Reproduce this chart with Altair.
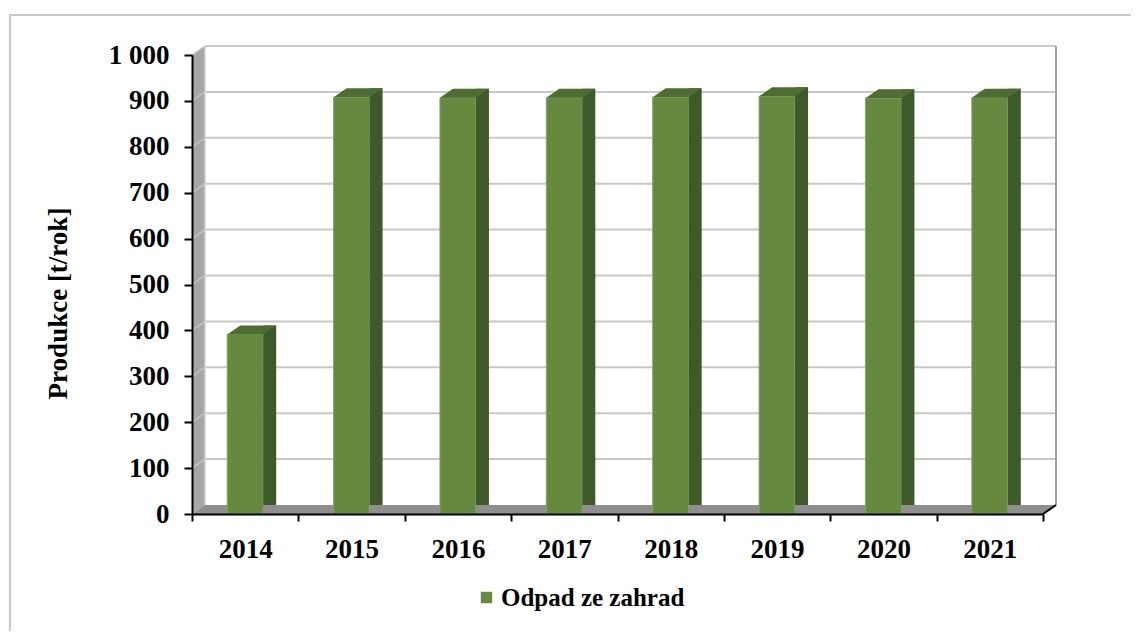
import altair as alt
import pandas as pd

# ---- data ----
years = ["2014", "2015", "2016", "2017", "2018", "2019", "2020", "2021"]
values = [391, 908, 907, 907, 908, 910, 906, 907]
series_name = "Odpad ze zahrad"
y_tick_values = [0, 100, 200, 300, 400, 500, 600, 700, 800, 900, 1000]
grid_values = [100, 200, 300, 400, 500, 600, 700, 800, 900, 1000]
y_title = "Produkce [t/rok]"

# ---- layout / style ----
W, H = 851, 459
DX, DY = 13, -9
BW = 36
HALF = BW / 2

FRONT = "#64893f"
SIDE = "#3e5a2b"
TOP = "#4d6d33"
FLOOR = "#8e8e8e"
WALL = "#a6a6a6"
GRID = "#c8c8c8"
FONT = "Liberation Serif"

bars = pd.DataFrame({"year": years, "value": values, "series": [series_name] * len(years)})
grid = pd.DataFrame({"v": grid_values})
one = pd.DataFrame({"v": [0]})

x_scale = alt.Scale(domain=years, paddingInner=0, paddingOuter=0)
y_scale = alt.Scale(domain=[0, 1000], nice=False)

x_axis = alt.Axis(title=None, labelAngle=0, tickBand="extent", tickSize=7, tickColor="black",
                  tickWidth=2, domainColor="black", domainWidth=2, labelFont=FONT,
                  labelFontSize=27, labelFontWeight="bold", labelColor="black",
                  labelPadding=15, grid=False, zindex=1)
y_axis = alt.Axis(title=y_title, values=y_tick_values, tickSize=8, tickColor="black",
                  tickWidth=2, domainColor="black", domainWidth=2, labelFont=FONT,
                  labelFontSize=27, labelFontWeight="bold", labelColor="black",
                  labelPadding=15, grid=False, zindex=1,
                  labelExpr="replace(format(datum.value, ',d'), ',', ' ')",
                  titleFont=FONT, titleFontSize=27, titleFontWeight="bold", titleColor="black",
                  titleX=-126, titleY=248, titleAngle=270, titleAlign="center",
                  titleBaseline="alphabetic")


def Yq(field):
    return alt.Y(field, scale=y_scale, axis=y_axis)


def Xn():
    return alt.X("year:N", scale=x_scale, axis=x_axis)


base_one = alt.Chart(one)

# outer frame (decoration)
frame_v = base_one.mark_rule(color="#c9c9c9", strokeWidth=2).encode(
    x=alt.value(-182), y=alt.value(-40), y2=alt.value(H + 200))
frame_h = base_one.mark_rule(color="#c9c9c9", strokeWidth=2).encode(
    x=alt.value(-183), x2=alt.value(W + 200), y=alt.value(-40))

# left wall and floor
wall_path = f"M 0 0 L 0 {-H} L {DX} {-H + DY} L {DX} {DY} Z"
floor_path = f"M 0 0 L {W} 0 L {W + DX} {DY} L {DX} {DY} Z"
left_wall = base_one.mark_point(shape=wall_path, size=4, filled=True, color=WALL,
                                opacity=1, strokeWidth=0).encode(
    x=alt.value(0), y=Yq("v:Q"))
floor = base_one.mark_point(shape=floor_path, size=4, filled=True, color=FLOOR,
                            opacity=1, strokeWidth=0).encode(
    x=alt.value(0), y=Yq("v:Q"))

# back wall gridlines
back_grid = alt.Chart(grid).mark_rule(color=GRID, strokeWidth=2, yOffset=DY).encode(
    x=alt.value(DX), x2=alt.value(W + DX), y=Yq("v:Q"))
side_grid = alt.Chart(grid).mark_rule(color="#c4c4c4", strokeWidth=1.5, y2Offset=DY).encode(
    x=alt.value(0), x2=alt.value(DX), y=Yq("v:Q"), y2="v:Q")
wall_edges = pd.DataFrame({"lo": [0], "hi": [1000]})
wall_left_edge = alt.Chart(wall_edges).mark_rule(color="#d2d2d2", strokeWidth=1.5,
                                                 yOffset=DY, y2Offset=DY).encode(
    x=alt.value(DX), y=Yq("hi:Q"), y2="lo:Q")
wall_right_edge = alt.Chart(wall_edges).mark_rule(color="#a0a0a0", strokeWidth=2,
                                                  yOffset=DY, y2Offset=DY).encode(
    x=alt.value(W + DX), y=Yq("hi:Q"), y2="lo:Q")

# bars
base_bars = alt.Chart(bars)
front = base_bars.mark_bar(width=BW, stroke="#86a766", strokeWidth=1).encode(
    x=Xn(),
    y=Yq("value:Q"),
    color=alt.Color("series:N", scale=alt.Scale(range=[FRONT]),
                    legend=alt.Legend(title=None, orient="none", legendX=282, legendY=530,
                                      symbolType="square", symbolSize=130, symbolStrokeWidth=0,
                                      labelFont=FONT, labelFontSize=25, labelFontWeight="bold",
                                      labelColor="black", labelOffset=2, labelLimit=0,
                                      padding=0)))
side = base_bars.mark_bar(width=DX, xOffset=HALF + DX / 2, yOffset=DY, color=SIDE).encode(
    x=Xn(), y=Yq("value:Q"))
side_fix_path = f"M {HALF} 0.5 L {HALF + DX} {DY} L {HALF + DX} 0.5 Z"
bars_zero = bars.assign(zero=0)
side_fix = alt.Chart(bars_zero).mark_point(shape=side_fix_path, size=4, filled=True, color=FLOOR,
                                           opacity=1, strokeWidth=0).encode(
    x=Xn(), y=Yq("zero:Q"))
top_path = f"M {-HALF} 0 L {HALF} 0 L {HALF + DX} {DY} L {-HALF + DX} {DY} Z"
top = base_bars.mark_point(shape=top_path, size=4, filled=True, color=TOP,
                           opacity=1, strokeWidth=0).encode(
    x=Xn(), y=Yq("value:Q"))

right_diag = base_one.mark_rule(color="black", strokeWidth=2, y2Offset=DY).encode(
    x=alt.value(W), x2=alt.value(W + DX), y=Yq("v:Q"), y2="v:Q")

chart = alt.layer(
    frame_v, frame_h, left_wall, floor, back_grid, side_grid, wall_left_edge, wall_right_edge,
    front, side, side_fix, top, right_diag
).properties(
    width=W, height=H,
    autosize=alt.AutoSizeParams(type="none"),
    padding={"left": 184, "top": 47, "right": 88, "bottom": 117},
    background="white",
).configure_view(stroke=None)

chart.save("out.html", embed_options={"renderer": "svg", "actions": False})
